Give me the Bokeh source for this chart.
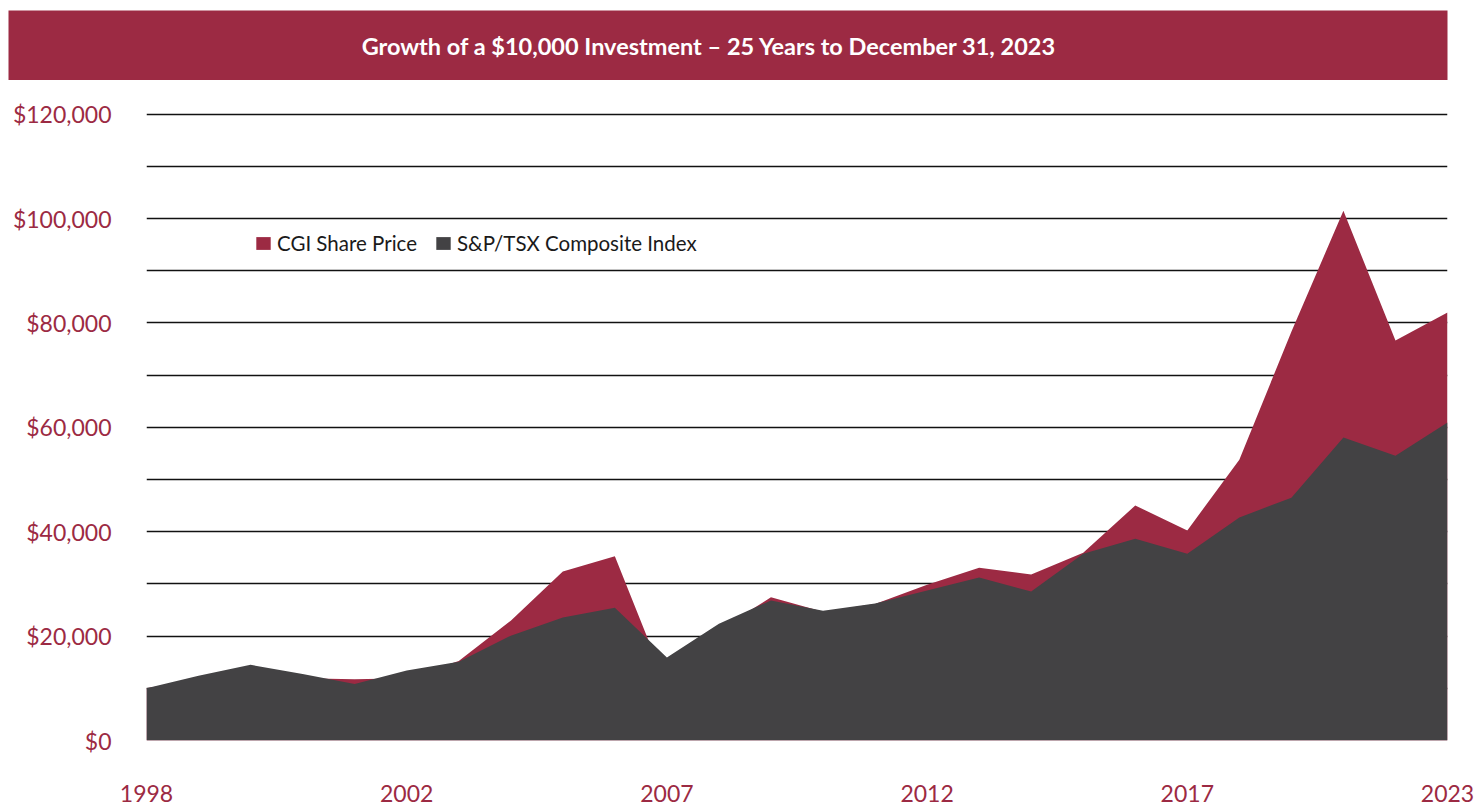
from bokeh.plotting import figure
from bokeh.layouts import column
from bokeh.models import (Range1d, FixedTicker, NumeralTickFormatter, Legend,
                          LegendItem, Label)
from bokeh.embed import file_html
from bokeh.resources import INLINE

# ---------------- data ----------------
period = list(range(26))  # 26 annual observations, start value $10,000
cgi_share_price = [10000, 11730, 13420, 11930, 11730, 11930, 15210, 22960, 32400, 35290,
                   10340, 21170, 27430, 24650, 26140, 29820, 33100, 31810, 35980, 45030,
                   40260, 53780, 78330, 101490, 76640, 82010]
sp_tsx_index = [10000, 12430, 14510, 12720, 10830, 13420, 15110, 20080, 23560, 25450,
                15900, 22370, 26840, 24850, 26240, 28730, 31210, 28530, 35780, 38670,
                35780, 42740, 46520, 58050, 54570, 60930]
tick_positions = [0, 5, 10, 15, 20, 25]
tick_labels = ["1998", "2002", "2007", "2012", "2017", "2023"]
y_major = [0, 20000, 40000, 60000, 80000, 100000, 120000]
y_minor = [10000, 30000, 50000, 70000, 90000, 110000]
series_names = ["CGI Share Price", "S&P/TSX Composite Index"]
title_text = "Growth of a $10,000 Investment \u2013 25 Years to December 31, 2023"

RED = "#9C2A43"
GRAY = "#434244"
FONT = "Lato"

# ---------------- title bar ----------------
t = figure(width=1481, height=80, x_range=Range1d(0, 1), y_range=Range1d(0, 1),
           x_axis_type=None, y_axis_type=None, toolbar_location=None,
           output_backend="svg", min_border_left=8, min_border_right=34,
           min_border_top=10, min_border_bottom=0)
t.frame_align = False
t.background_fill_color = RED
t.border_fill_color = "white"
t.outline_line_color = None
t.xgrid.visible = False
t.ygrid.visible = False
t.add_layout(Label(x=0.487, y=0.5, text=title_text, text_align="center",
                   text_baseline="middle", text_color="white",
                   text_font=FONT, text_font_style="bold",
                   text_font_size="23.5px"))

# ---------------- main chart ----------------
p = figure(width=1481, height=725, x_range=Range1d(0, 25), y_range=Range1d(0, 121100),
           toolbar_location=None, output_backend="svg",
           min_border_left=146, min_border_right=34, min_border_top=28,
           min_border_bottom=65)
p.frame_align = False
p.outline_line_color = None
p.background_fill_color = "white"
p.border_fill_color = "white"

r_cgi = p.varea(x=period, y1=0, y2=cgi_share_price, fill_color=RED, fill_alpha=1)
r_tsx = p.varea(x=period, y1=0, y2=sp_tsx_index, fill_color=GRAY, fill_alpha=1)

# y axis
p.yaxis.ticker = FixedTicker(ticks=y_major, minor_ticks=y_minor)
p.yaxis.formatter = NumeralTickFormatter(format="$0,0")
p.yaxis.axis_line_color = None
p.yaxis.major_tick_line_color = None
p.yaxis.minor_tick_line_color = None
p.yaxis.major_label_standoff = 29
p.yaxis.major_label_text_color = RED
p.yaxis.major_label_text_font = FONT
p.yaxis.major_label_text_font_size = "23px"

p.ygrid.grid_line_color = "#111111"
p.ygrid.grid_line_width = 1.3
p.ygrid.minor_grid_line_color = "#111111"
p.ygrid.minor_grid_line_width = 1.3
p.xgrid.visible = False

# x axis
p.xaxis.ticker = FixedTicker(ticks=tick_positions)
p.xaxis.major_label_overrides = {k: v for k, v in zip(tick_positions, tick_labels)}
p.xaxis.axis_line_color = None
p.xaxis.major_tick_line_color = None
p.xaxis.minor_tick_line_color = None
p.xaxis.major_label_standoff = 38
p.xaxis.major_label_text_color = RED
p.xaxis.major_label_text_font = FONT
p.xaxis.major_label_text_font_size = "23px"

legend = Legend(items=[LegendItem(label=series_names[0], renderers=[r_cgi]),
                       LegendItem(label=series_names[1], renderers=[r_tsx])],
                location=(108, 485), orientation="horizontal",
                glyph_width=18, glyph_height=16, label_standoff=5, spacing=17,
                padding=0, margin=0, border_line_color=None,
                background_fill_alpha=0, label_text_font=FONT,
                label_text_font_size="20.5px", label_text_color="#1a1a1a")
p.add_layout(legend)

layout = column(t, p, spacing=0)
open("out.html", "w").write(file_html(layout, INLINE))
